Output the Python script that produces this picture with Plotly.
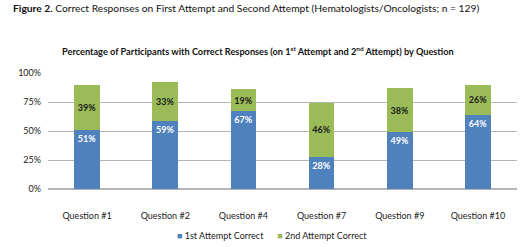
import plotly.graph_objects as go

categories = ["Question #1", "Question #2", "Question #4", "Question #7", "Question #9", "Question #10"]
first_attempt = [51, 59, 67, 28, 49, 64]
second_attempt = [39, 33, 19, 46, 38, 26]
series_names = ["1st Attempt Correct", "2nd Attempt Correct"]
series_colors = ["#4F81BD", "#9BBB59"]
tick_vals = [0, 25, 50, 75, 100]
tick_labels = ["0%", "25%", "50%", "75%", "100%"]

FONT = "Lato"
fig = go.Figure()
fig.add_trace(go.Bar(
    x=categories, y=first_attempt, name=series_names[0],
    marker=dict(color=series_colors[0], line=dict(width=0)),
    text=[f"{v}%" for v in first_attempt], textposition="inside",
    insidetextanchor="end", textangle=0,
    textfont=dict(color="white", size=9, family=FONT, weight="bold"),
))
fig.add_trace(go.Bar(
    x=categories, y=second_attempt, name=series_names[1],
    marker=dict(color=series_colors[1], line=dict(width=0)),
    text=[f"{v}%" for v in second_attempt], textposition="inside",
    insidetextanchor="middle", textangle=0,
    textfont=dict(color="#1a1a1a", size=9, family=FONT, weight="bold"),
))

legend_text = (f"<span style='color:{series_colors[0]}'>■</span> {series_names[0]}"
               f"      <span style='color:{series_colors[1]}'>■</span> {series_names[1]}")

fig.update_layout(
    width=520, height=247, barmode="stack", bargap=0.67,
    margin=dict(l=48, r=3, t=73, b=58),
    paper_bgcolor="white", plot_bgcolor="white",
    font=dict(family=FONT, size=9, color="#222"),
    showlegend=False,
    xaxis=dict(showgrid=False, showline=False, ticks="", automargin=False,
               tickfont=dict(size=9, color="#222"), ticklabelstandoff=20),
    yaxis=dict(range=[0, 100], tickvals=tick_vals, ticktext=tick_labels, automargin=False,
               showgrid=True, gridcolor="#b5b5b5", gridwidth=1, zeroline=True,
               zerolinecolor="#b5b5b5", showline=False, ticks="",
               tickfont=dict(size=9, color="#222"), ticklabelstandoff=6),
    annotations=[
        dict(text="<b>Figure 2.</b> Correct Responses on First Attempt and Second Attempt (Hematologists/Oncologists; n = 129)",
             xref="paper", yref="paper", x=-0.079, y=1.0, yanchor="bottom", xanchor="left",
             yshift=57, showarrow=False, font=dict(size=10.25, color="#111")),
        dict(text="<b>Percentage of Participants with Correct Responses (on 1<sup>st</sup> Attempt and 2<sup>nd</sup> Attempt) by Question</b>",
             xref="paper", yref="paper", x=0.448, y=1.0, yanchor="bottom", xanchor="center",
             yshift=14, showarrow=False, font=dict(size=9.2, color="#111")),
        dict(text=legend_text, xref="paper", yref="paper", x=0.478, y=0, yanchor="middle",
             xanchor="center", yshift=-46, showarrow=False, font=dict(size=9, color="#222")),
    ],
)
fig.write_html("out.html", config={"displayModeBar": False},
               post_script="document.body.style.margin='0';")
